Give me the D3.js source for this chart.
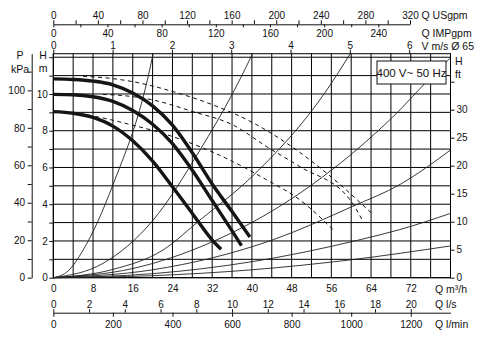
<!DOCTYPE html>
<html>
<head>
<meta charset="utf-8">
<script src="https://cdn.jsdelivr.net/npm/d3@7"></script>
<style>
  body { margin: 0; background: #fff; }
  svg { display: block; }
  text { font-family: "Liberation Sans", Arial, sans-serif; fill: #111; }
</style>
</head>
<body>
<svg id="chart" width="480" height="343"></svg>
<script>
// ---- axis tick values ----
const flowTicks = [0, 8, 16, 24, 32, 40, 48, 56, 64, 72];          // Q m³/h
const headTicks = [0, 1, 2, 3, 4, 5, 6, 7, 8, 9, 10, 11, 12];       // H m
const pressureTicks = [0, 10, 20, 30, 40, 50, 60, 70, 80, 90, 100, 110]; // kPa
const feetTicks = [0, 5, 10, 15, 20, 25, 30, 35];                   // H ft
const usgpmTicks = [0, 20, 40, 60, 80, 100, 120, 140, 160, 180, 200, 220, 240, 260, 280, 300, 320];
const impgpmTicks = [0, 20, 40, 60, 80, 100, 120, 140, 160, 180, 200, 220, 240];
const velocityTicks = [0, 1, 2, 3, 4, 5, 6];                        // m/s in DN65
const lpsTicks = [0, 2, 4, 6, 8, 10, 12, 14, 16, 18, 20];
const lpmTicks = [0, 200, 400, 600, 800, 1000, 1200];

// ---- pump curves, [Q m³/h, H m] ----
const speed1 = [[0, 9.04], [4, 8.95], [8, 8.72], [12, 8.25], [16, 7.45], [20, 6.35], [24, 4.95], [28, 3.5], [32, 2.05], [33.8, 1.55]];
const speed2 = [[0, 9.98], [4, 9.96], [8, 9.85], [12, 9.6], [16, 9.1], [20, 8.35], [24, 7.3], [28, 5.85], [32, 4.2], [36, 2.55], [37.9, 1.75]];
const speed3 = [[0, 10.82], [4, 10.79], [8, 10.7], [12, 10.5], [16, 10.05], [20, 9.35], [24, 8.3], [28, 6.8], [32, 5.1], [36, 3.6], [39.6, 2.22]];

// extended (dashed) curves
const dashTop = [[6, 10.96], [8.7, 10.92], [16, 10.67], [24.1, 10.13], [32.2, 9.4], [39.6, 8.52], [47, 7.32], [55.1, 5.68], [64.5, 3.41]];
const dashMid = [[10, 9.97], [12, 9.95], [20.1, 9.67], [28.1, 9.04], [36.2, 8.31], [43, 7.13], [49.7, 6.04], [59.8, 4.23], [62.4, 3.05]];
const dashLow = [[4, 8.97], [8, 8.8], [16, 8.3], [22, 7.86], [29.5, 7.13], [36.25, 6.31], [43, 5.32], [49.7, 4.23], [56.4, 2.6]];

// system curves from the origin
const system1 = [[0, 0], [3, 0.37], [6, 1.5], [12, 5.05], [19.4, 11.3], [20.1, 12.19]];
const system2 = [[0, 0], [10, 0.78], [20, 3.1], [29.55, 6.95], [36.25, 10.1], [39.6, 11.9], [40.1, 12.19]];
const system3 = [[0, 0], [12, 0.45], [22.1, 1.51], [29.55, 3.14], [40, 5.5], [55.1, 10.22], [59.8, 12.19]];
const system4 = [[0, 0], [16, 0.5], [32, 1.95], [48, 4.3], [64, 7.65], [69.8, 9.13], [74.85, 10.58], [80, 11.97]];
const system5 = [[0, 0], [20, 0.43], [44.3, 2.07], [60, 3.85], [70, 5.1], [80, 6.95]];
const system6 = [[0, 0], [20, 0.22], [40, 0.87], [61.8, 2.07], [69.8, 2.62], [80, 3.5]];
const system7 = [[0, 0], [20, 0.11], [40, 0.43], [59.8, 0.97], [80, 1.73]];

const legendText = "400 V~ 50 Hz";

// ---- scales ----
const qMax = 80, hMax = 12.192;        // 40 ft at the top of the grid
const x = d3.scaleLinear().domain([0, qMax]).range([53.3, 450.5]);
const y = d3.scaleLinear().domain([0, hMax]).range([277.7, 53.7]);

const M3H_PER_IMPGPM = 0.272765;
const M3H_PER_MS = Math.PI * 0.0325 * 0.0325 * 3600;   // DN65 pipe
const usgpm = d3.scaleLinear().domain([0, 320]).range([x(0), 410]);
const impgpm = d3.scaleLinear().domain([0, qMax / M3H_PER_IMPGPM]).range(x.range());
const vel = d3.scaleLinear().domain([0, qMax / M3H_PER_MS]).range(x.range());
const lps = d3.scaleLinear().domain([0, qMax / 3.6]).range(x.range());
const lpm = d3.scaleLinear().domain([0, qMax / 0.06]).range(x.range());
const kpa = d3.scaleLinear().domain([0, hMax * 9.80665]).range(y.range());
const feet = d3.scaleLinear().domain([0, 40]).range(y.range());

const svg = d3.select("#chart");
const INK = "#111";
const plain = d => String(d);

function place(axis, tx, ty, keepDomain) {
  const g = svg.append("g").attr("transform", `translate(${tx},${ty})`).call(axis);
  g.attr("font-family", null).attr("font-size", null);
  g.selectAll("text").attr("font-size", 10).attr("fill", INK);
  g.selectAll("line").attr("stroke", INK);
  if (keepDomain) g.select(".domain").attr("stroke", INK);
  else g.select(".domain").remove();
  return g;
}

// ---- grid ----
const grid = svg.append("g").attr("stroke", "#000").attr("stroke-width", 1);
grid.selectAll("line.v").data(d3.range(0, qMax + 1, 4)).join("line")
  .attr("x1", d => x(d)).attr("x2", d => x(d)).attr("y1", y(0)).attr("y2", y(hMax));
grid.selectAll("line.h").data(headTicks).join("line").attr("class", "h")
  .attr("x1", x(0)).attr("x2", x(qMax)).attr("y1", d => y(d)).attr("y2", d => y(d));
svg.append("rect").attr("x", x(0)).attr("y", y(hMax))
  .attr("width", x(qMax) - x(0)).attr("height", y(0) - y(hMax))
  .attr("fill", "none").attr("stroke", "#000").attr("stroke-width", 1);

// ---- curves ----
const line = d3.line().x(d => x(d[0])).y(d => y(d[1])).curve(d3.curveMonotoneX);
const curves = svg.append("g").attr("fill", "none");

curves.selectAll("path.sys").data([system1, system2, system3, system4, system5, system6, system7]).join("path")
  .attr("class", "sys").attr("d", line).attr("stroke", "#222").attr("stroke-width", 0.9);

curves.selectAll("path.dash").data([dashTop, dashMid, dashLow]).join("path")
  .attr("class", "dash").attr("d", line).attr("stroke", "#111")
  .attr("stroke-width", 1).attr("stroke-dasharray", "4,3.5");

curves.selectAll("path.pump").data([speed1, speed2, speed3]).join("path")
  .attr("class", "pump").attr("d", line).attr("stroke", "#151515").attr("stroke-width", 3.4);

// ---- axes ----
// top: US gallons (ticks up) and imperial gallons (ticks down) on a shared line
place(d3.axisTop(usgpm).tickValues(usgpmTicks).tickFormat(d => d % 40 ? "" : d)
  .tickSize(4).tickPadding(1).tickSizeOuter(0), 0, 24.3, true);
place(d3.axisBottom(impgpm).tickValues(impgpmTicks).tickFormat(d => d % 40 ? "" : d)
  .tickSize(3).tickPadding(2.5), 0, 24.3, false);
// velocity in DN65 along the top of the grid
place(d3.axisTop(vel).tickValues(velocityTicks).tickFormat(plain)
  .tickSize(4).tickPadding(0.6), 0, y(hMax), false);

// bottom: m³/h under the grid, l/s and l/min on a shared line
place(d3.axisBottom(x).tickValues(flowTicks).tickFormat(plain).tickSize(0).tickPadding(7), 0, y(0), false);
place(d3.axisTop(lps).tickValues(lpsTicks).tickFormat(plain)
  .tickSize(3.5).tickPadding(1.3).tickSizeOuter(0), 0, 312.7, true);
place(d3.axisBottom(lpm).tickValues(lpmTicks).tickFormat(plain)
  .tickSize(4).tickPadding(4.1), 0, 312.7, false);

// left: head in m and pressure in kPa
place(d3.axisLeft(y).tickValues(headTicks).tickFormat(d => (d % 2 || d > 10) ? "" : d)
  .tickSize(4).tickPadding(1.5), x(0), 0, false);
place(d3.axisLeft(kpa).tickValues(pressureTicks).tickFormat(d => d % 20 ? "" : d)
  .tickSize(4).tickPadding(2.7).tickSizeOuter(0), 31.7, 0, true);

// right: head in ft
place(d3.axisRight(feet).tickValues(feetTicks).tickFormat(d => d > 30 ? "" : d)
  .tickSize(4).tickPadding(2), x(qMax), 0, false);

// ---- unit labels ----
const labels = [
  { t: "P", x: 20, y: 58.8, a: "middle" },
  { t: "kPa", x: 20, y: 72.8, a: "middle" },
  { t: "H", x: 43, y: 58.8, a: "middle" },
  { t: "m", x: 43, y: 71.8, a: "middle" },
  { t: "H", x: 455, y: 64.6, a: "start" },
  { t: "ft", x: 455, y: 77.6, a: "start" },
  { t: "Q USgpm", x: 421.5, y: 19.3, a: "start" },
  { t: "Q IMPgpm", x: 421.5, y: 36.9, a: "start" },
  { t: "V m/s Ø 65", x: 421.5, y: 50.2, a: "start" },
  { t: "Q m³/h", x: 435, y: 293.2, a: "start" },
  { t: "Q l/s", x: 435, y: 307.9, a: "start" },
  { t: "Q l/min", x: 435, y: 327.9, a: "start" }
];
svg.append("g").selectAll("text").data(labels).join("text")
  .attr("x", d => d.x).attr("y", d => d.y).attr("text-anchor", d => d.a)
  .attr("font-size", 10.5).text(d => d.t);

// ---- legend box ----
const lg = svg.append("g");
lg.append("rect").attr("x", 377).attr("y", 61).attr("width", 69).attr("height", 23)
  .attr("fill", "#fff").attr("stroke", "#111").attr("stroke-width", 1);
lg.append("text").attr("x", 411.5).attr("y", 77).attr("text-anchor", "middle")
  .attr("font-size", 11.5).text(legendText);
</script>
</body>
</html>
